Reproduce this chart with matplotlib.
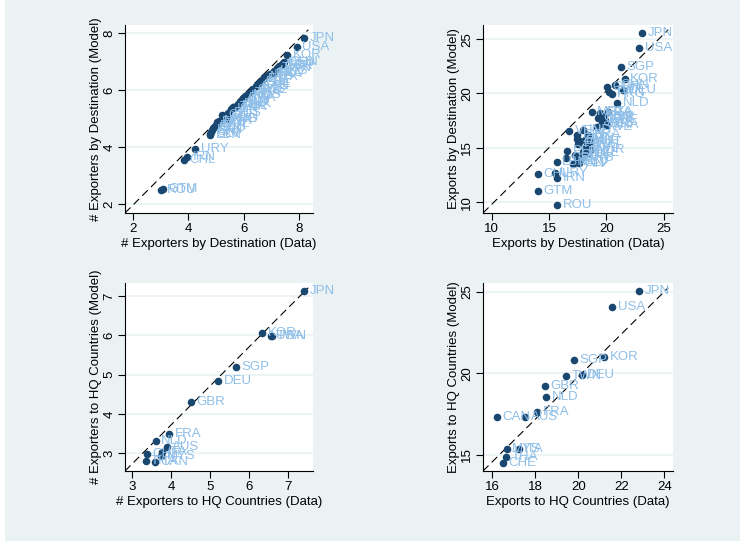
import matplotlib
matplotlib.use("Agg")
import matplotlib.pyplot as plt
from matplotlib.patches import Rectangle

plt.rcParams['font.family'] = ['Liberation Sans', 'DejaVu Sans']

# countries in the two "by destination" panels
dest_codes = ["JPN", "USA", "KOR", "CHN", "DEU", "SGP", "GBR", "TWN", "HKG", "NLD",
              "FRA", "ITA", "MEX", "ESP", "BEL", "CHE", "CAN", "AUS", "SWE", "THA",
              "MYS", "IND", "BRA", "IDN", "AUT", "DNK", "POL", "TUR", "ZAF", "ISR",
              "RUS", "VEN", "PHL", "ARG", "CZE", "NOR", "FIN", "COL", "PER", "ECU",
              "PAN", "CRI", "SLV", "LBN", "URY", "IRN", "CHL", "GTM", "ROU"]

# number of exporters by destination
nexp_dest_data = [8.19, 7.91, 7.58, 7.45, 7.41, 7.33, 7.28, 7.19, 7.10, 7.04,
                  6.95, 6.88, 6.75, 6.68, 6.60, 6.51, 6.43, 6.35, 6.29, 6.20,
                  6.12, 6.05, 5.99, 5.93, 5.85, 5.80, 5.75, 5.68, 5.63, 5.55,
                  5.45, 5.37, 5.35, 5.30, 5.23, 5.10, 5.03, 5.03, 4.95, 4.90,
                  4.85, 4.82, 4.80, 4.79, 4.25, 3.95, 3.85, 3.10, 3.02]
nexp_dest_model = [7.82, 7.51, 7.25, 6.99, 6.97, 6.90, 6.86, 6.80, 6.68, 6.60,
                   6.57, 6.53, 6.46, 6.40, 6.30, 6.21, 6.16, 6.06, 6.01, 5.90,
                   5.85, 5.79, 5.72, 5.66, 5.58, 5.52, 5.45, 5.42, 5.40, 5.33,
                   5.22, 5.08, 4.98, 5.00, 5.13, 4.92, 4.90, 4.82, 4.75, 4.68,
                   4.62, 4.55, 4.48, 4.44, 3.93, 3.67, 3.56, 2.55, 2.51]

# exports by destination
exp_dest_data = [23.08, 22.85, 21.60, 20.74, 21.46, 21.23, 20.01, 20.24, 20.44, 20.94,
                 19.43, 20.15, 18.70, 19.71, 19.71, 19.86, 19.25, 19.60, 19.16, 20.03,
                 19.50, 17.98, 18.40, 18.21, 18.56, 17.69, 17.54, 18.09, 17.40, 17.46,
                 18.30, 16.73, 17.92, 17.77, 18.40, 18.60, 18.00, 17.26, 16.59, 17.40,
                 17.11, 16.47, 17.60, 15.66, 15.51, 15.71, 14.00, 14.03, 15.71]
exp_dest_model = [25.55, 24.14, 21.35, 20.80, 20.28, 22.42, 20.64, 20.09, 19.97, 19.14,
                  18.19, 18.34, 18.34, 17.88, 17.18, 17.58, 17.76, 17.30, 16.90, 17.10,
                  17.70, 16.60, 16.20, 15.83, 15.52, 15.62, 15.32, 14.97, 15.83, 16.20,
                  15.30, 16.54, 14.60, 14.05, 14.50, 14.80, 14.30, 14.35, 14.74, 13.83,
                  13.47, 14.05, 13.60, 13.65, 12.70, 12.24, 12.58, 11.04, 9.76]

# HQ countries
hq_codes_n = ["JPN", "KOR", "USA", "TWN", "SGP", "DEU", "GBR", "FRA", "NLD", "AUS",
              "ITA", "MYS", "CHE", "THA", "CAN"]
nexp_hq_data = [7.41, 6.33, 6.55, 6.57, 5.65, 5.20, 4.49, 3.95, 3.60, 3.88,
                3.77, 3.73, 3.38, 3.34, 3.57]
nexp_hq_model = [7.13, 6.05, 5.98, 5.97, 5.20, 4.84, 4.31, 3.48, 3.31, 3.15,
                 3.04, 2.92, 2.98, 2.81, 2.77]

hq_codes_e = ["JPN", "USA", "KOR", "SGP", "TWN", "DEU", "GBR", "NLD", "FRA", "AUS",
              "CAN", "MYS", "ITA", "THA", "CHE"]
exp_hq_data = [22.82, 21.58, 21.21, 19.78, 19.44, 20.15, 18.43, 18.50, 18.09, 17.53,
               16.22, 16.67, 17.22, 16.64, 16.50]
exp_hq_model = [25.04, 24.08, 20.99, 20.83, 19.83, 19.90, 19.21, 18.56, 17.62, 17.33,
                17.31, 15.39, 15.39, 14.86, 14.53]

bg = "#eaf2f3"
navy = "#1a476f"
lbl = "#8fbfe8"

fig = plt.figure(figsize=(7.40, 5.41), dpi=100)
fig.patch.set_facecolor(bg)
fig.patches.append(Rectangle((0, 0), 5 / 740, 1, transform=fig.transFigure,
                             facecolor="white", edgecolor="none"))

W, H = 740, 541


def panel(box, x, y, codes, xlab, ylab, xlim, ylim, xt, yt):
    l, t, r, b = box
    ax = fig.add_axes([l / W, (H - b) / H, (r - l) / W, (b - t) / H])
    ax.set_facecolor("white")
    ax.set_xlim(xlim)
    ax.set_ylim(ylim)
    ax.set_xticks(xt)
    ax.set_yticks(yt)
    ax.grid(axis="y", color=bg, linewidth=1.2)
    ax.set_axisbelow(True)
    for s in ["top", "right"]:
        ax.spines[s].set_visible(False)
    for s in ["left", "bottom"]:
        ax.spines[s].set_linewidth(0.8)
    ax.tick_params(direction="out", length=5, width=0.8, labelsize=9.5, pad=2)
    for t_ in ax.get_yticklabels():
        t_.set_rotation(90)
        t_.set_va("center")
    # diagonal reference line
    ax.plot([0, 0.975], [0, 0.975], transform=ax.transAxes, color="black",
            linewidth=0.8, dashes=(7, 4))
    ax.scatter(x, y, s=30, color=navy, zorder=3, linewidths=0)
    for xi, yi, c in zip(x, y, codes):
        ax.annotate(c, (xi, yi), xytext=(4, 0), textcoords="offset points",
                    va="center", ha="left", fontsize=9.5, color=lbl,
                    annotation_clip=False, zorder=4)
    ax.set_xlabel(xlab, fontsize=9.5, labelpad=2)
    ax.set_ylabel(ylab, fontsize=9.5, labelpad=1)
    return ax


panel((125, 25, 313, 213), nexp_dest_data, nexp_dest_model, dest_codes,
      "# Exporters by Destination (Data)", "# Exporters by Destination (Model)",
      (1.72, 8.5), (1.7, 8.29), [2, 4, 6, 8], [2, 4, 6, 8])
panel((483, 25, 673, 213), exp_dest_data, exp_dest_model, dest_codes,
      "Exports by Destination (Data)", "Exports by Destination (Model)",
      (9.24, 25.8), (9.0, 26.3), [10, 15, 20, 25], [10, 15, 20, 25])
panel((125, 283, 313, 471), nexp_hq_data, nexp_hq_model, hq_codes_n,
      "# Exporters to HQ Countries (Data)", "# Exporters to HQ Countries (Model)",
      (2.81, 7.63), (2.55, 7.33), [3, 4, 5, 6, 7], [3, 4, 5, 6, 7])
panel((483, 283, 673, 471), exp_hq_data, exp_hq_model, hq_codes_e,
      "Exports to HQ Countries (Data)", "Exports to HQ Countries (Model)",
      (15.57, 24.4), (14.02, 25.55), [16, 18, 20, 22, 24], [15, 20, 25])

fig.savefig("out.png", dpi=100, facecolor=bg)
